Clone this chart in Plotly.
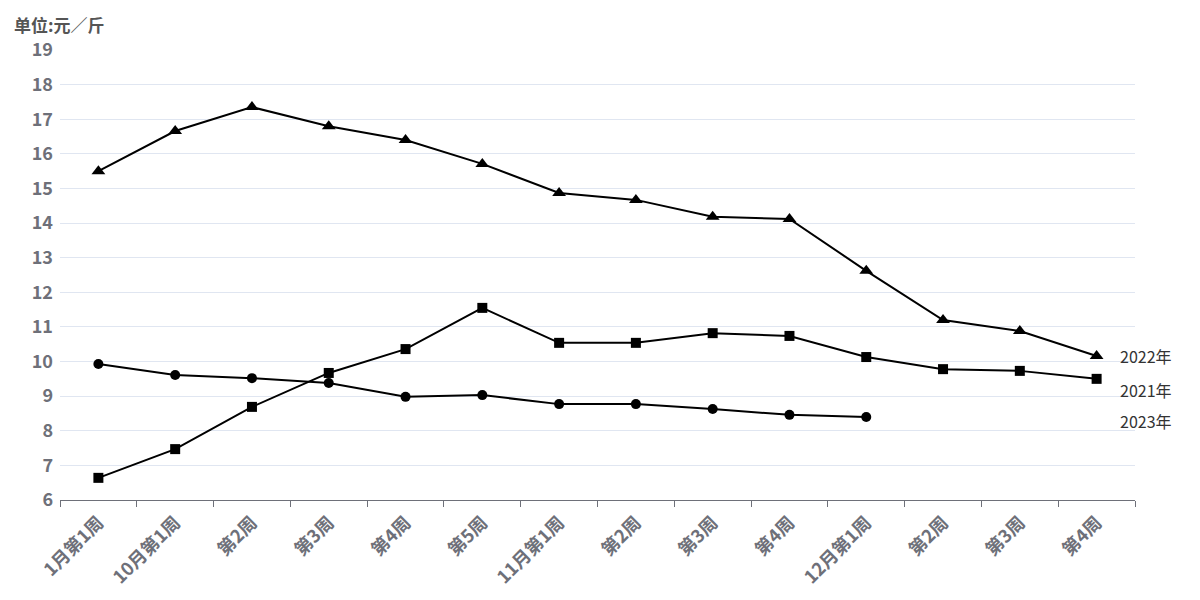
import plotly.graph_objects as go

categories = ["1月第1周", "10月第1周", "第2周", "第3周", "第4周", "第5周", "11月第1周",
              "第2周", "第3周", "第4周", "12月第1周", "第2周", "第3周", "第4周"]
y2022 = [15.50, 16.66, 17.35, 16.80, 16.40, 15.71, 14.87, 14.67, 14.18, 14.12, 12.62, 11.20, 10.88, 10.16]
y2021 = [6.64, 7.47, 8.69, 9.67, 10.36, 11.55, 10.54, 10.54, 10.82, 10.74, 10.13, 9.78, 9.73, 9.50]
y2023 = [9.93, 9.61, 9.52, 9.38, 8.98, 9.03, 8.77, 8.77, 8.63, 8.46, 8.40]
y_ticks = list(range(6, 20))

idx = list(range(len(categories)))
boundaries = [i - 0.5 for i in range(len(categories) + 1)]
FONT = "Noto Sans CJK SC"
TICK_COLOR = "#6e7079"

fig = go.Figure()
series = [
    ("2022年", y2022, "triangle-up", 12, 0),
    ("2021年", y2021, "square", 10, -11),
    ("2023年", y2023, "circle", 10, -4),
]
for name, ys, sym, msize, shift in series:
    xs = idx[:len(ys)]
    fig.add_trace(go.Scatter(
        x=xs, y=ys, mode="lines+markers", name=name,
        line=dict(color="#000000", width=2),
        marker=dict(symbol=sym, size=msize, color="#000000"),
        showlegend=False,
    ))
    fig.add_annotation(
        x=1, xref="paper", xanchor="left", xshift=-17,
        y=ys[-1], yref="y", yshift=shift,
        text=name, showarrow=False,
        font=dict(family=FONT, size=16, color="#333333"),
    )

fig.update_layout(
    width=1192, height=592,
    margin=dict(l=52, r=65, t=42, b=100),
    plot_bgcolor="#ffffff", paper_bgcolor="#ffffff",
    font=dict(family=FONT),
    xaxis=dict(
        tickmode="array", tickvals=idx, ticktext=categories,
        range=[-0.5, len(categories) - 0.5],
        ticks="", ticklabelstandoff=4,
        minor=dict(tickmode="array", tickvals=boundaries, ticks="outside",
                   ticklen=6, tickcolor=TICK_COLOR, showgrid=False),
        showline=True, linecolor=TICK_COLOR, linewidth=1,
        showgrid=False, zeroline=False, automargin=False,
        tickangle=-45,
        tickfont=dict(family=FONT, size=18, color=TICK_COLOR, weight="bold"),
    ),
    yaxis=dict(
        range=[6, 19], tickvals=y_ticks,
        showgrid=True, gridcolor="#e0e6f1", gridwidth=1,
        zeroline=False, showline=False, ticks="", automargin=False,
        ticklabelstandoff=6,
        tickfont=dict(family=FONT, size=18, color=TICK_COLOR, weight="bold"),
    ),
)
fig.add_annotation(
    x=-48 / 1075, xref="paper", xanchor="left",
    y=1 + 25 / 450, yref="paper", yanchor="middle",
    text="单位:元／斤", showarrow=False,
    font=dict(family=FONT, size=17, color="#555555", weight="bold"),
)

fig.write_html("out.html")
